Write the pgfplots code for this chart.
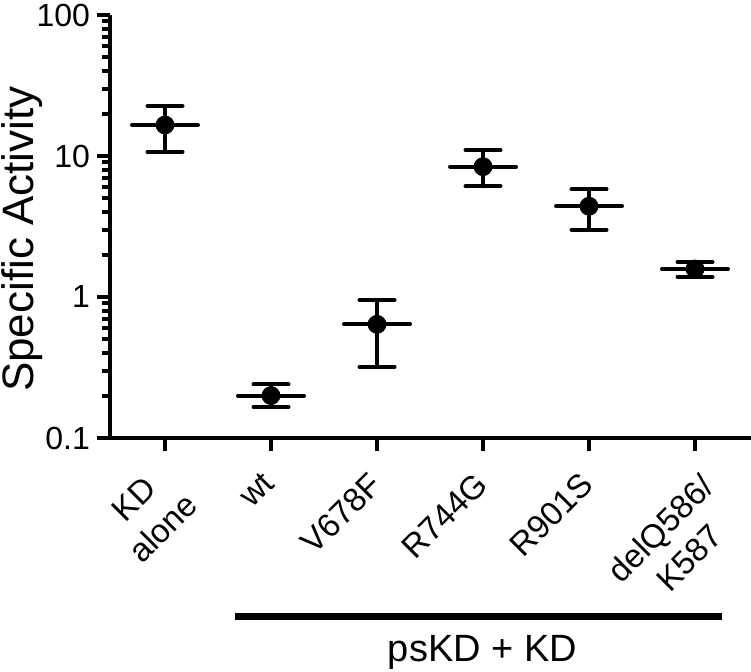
\documentclass[border=0pt]{standalone}
\usepackage{pgfplots}
\pgfplotsset{compat=1.18}
\usepackage{pgfplotstable}
\usepackage{fontspec}
\setmainfont{Liberation Sans}

\pgfplotstableread{
x y ep em
0 16.6 6.0 5.9
1 0.20 0.04 0.034
2 0.64 0.31 0.32
3 8.4 2.6 2.3
4 4.4 1.4 1.4
5 1.58 0.19 0.19
}\datatab

\begin{document}
\begin{tikzpicture}[xl/.style={rotate=45, anchor=north east, inner sep=0pt, align=center, font=\fontsize{16.5}{20.5}\selectfont}]
\begin{axis}[
  scale only axis,
  width=320.5pt, height=211.5pt,
  ymode=log, ymin=0.1, ymax=100,
  xmin=-0.5189, xmax=5.528,
  axis x line*=bottom, axis y line*=left,
  axis line style={line width=2pt},
  tick align=outside,
  major tick length=6.5pt, minor tick length=4pt,
  tick style={line width=2pt, black},
  ytick={0.1,1,10,100}, yticklabels={0.1,1,10,100},
  minor ytick={0.2,0.3,0.4,0.5,0.6,0.7,0.8,0.9,2,3,4,5,6,7,8,9,20,30,40,50,60,70,80,90},
  xtick={0,1,2,3,4,5},
  minor x tick num=0,
  xticklabels={},
  yticklabel style={font=\fontsize{16}{18}\selectfont},
  /pgf/number format/assume math mode=true,
  ylabel={Specific Activity},
  every axis y label/.style={at={(axis description cs:-0.1365,0.47)}, rotate=90, anchor=center, font=\fontsize{22}{24}\selectfont},
  clip=false,
]
\coordinate (bl) at (rel axis cs:0,0);
% mean lines
\addplot[only marks, mark=-, mark size=16.5pt, black, mark options={line width=2pt, line cap=round}]
  table[x=x, y=y] {\datatab};
% error bars + mean dots
\addplot[only marks, mark=*, mark size=4.5pt, black,
  error bars/.cd, y dir=both, y explicit,
  error bar style={line width=2pt, line cap=round},
  error mark options={rotate=90, line width=2pt, mark size=8.75pt, line cap=round}]
  table[x=x, y=y, y error plus=ep, y error minus=em] {\datatab};
% category labels
\node[xl] at ([xshift=-5.4pt, yshift=-11.9pt]axis cs:0,0.1) {KD\\alone};
\node[xl] at ([xshift=-5pt, yshift=-16pt]axis cs:1,0.1) {wt};
\node[xl] at ([xshift=-5pt, yshift=-16pt]axis cs:2,0.1) {V678F};
\node[xl] at ([xshift=-5pt, yshift=-16pt]axis cs:3,0.1) {R744G};
\node[xl] at ([xshift=-5pt, yshift=-16pt]axis cs:4,0.1) {R901S};
\node[xl] at ([xshift=2pt, yshift=-17pt]axis cs:5,0.1) {delQ586/\\K587};
% group bar
\draw[line width=3.5pt] ([yshift=-89.5pt]axis cs:0.66,0.1) -- ([yshift=-89.5pt]axis cs:5.256,0.1);
\node[anchor=base, font=\fontsize{19}{20}\selectfont] at ([yshift=-111.9pt]axis cs:2.995,0.1) {psKD + KD};
\end{axis}
\pgfresetboundingbox
\path (bl) ++(-55pt,-117pt) rectangle ++(375.5pt,336pt);
\end{tikzpicture}
\end{document}
